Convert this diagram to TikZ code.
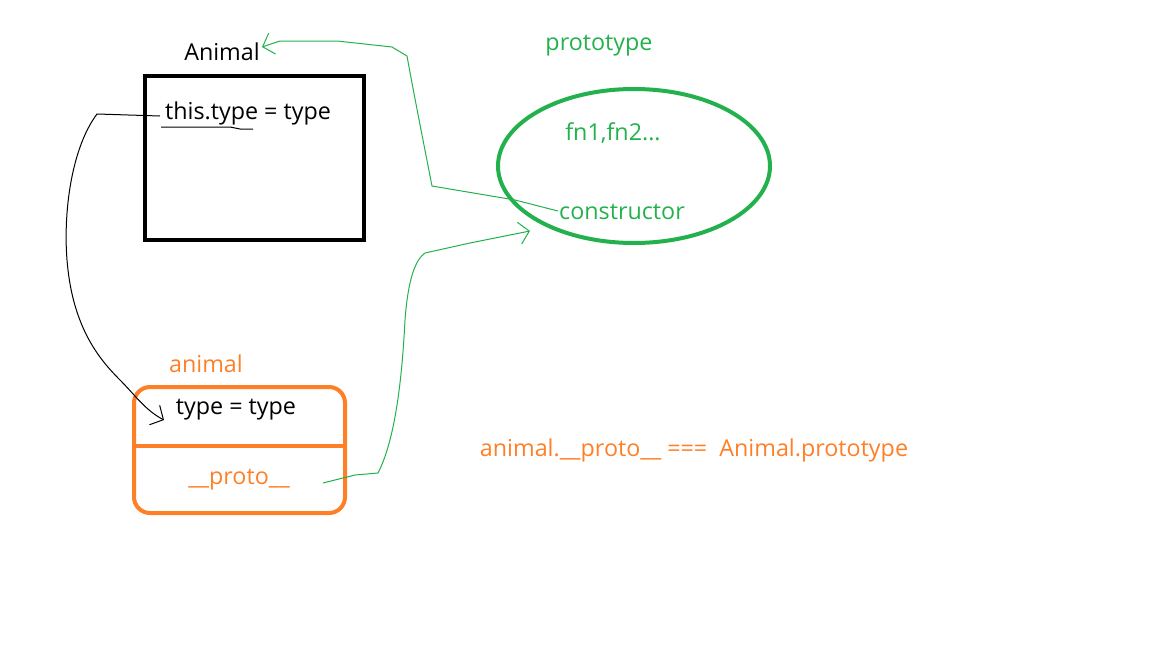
\documentclass[tikz,border=0pt]{standalone}
\usepackage{fontspec}
\setmainfont{Open Sans}
\usetikzlibrary{arrows.meta,shapes.geometric}
\definecolor{pgreen}{RGB}{34,177,76}
\definecolor{porange}{RGB}{255,127,39}
\tikzset{
  lbl/.style={inner sep=0pt, font=\fontsize{23.3}{28}\selectfont},
  greenlbl/.style={lbl, text=pgreen},
  orangelbl/.style={lbl, text=porange},
  thinblack/.style={draw=black, line width=1pt},
  thingreen/.style={draw=pgreen, line width=1pt},
  barb/.style={-{Straight Barb[length=10pt,width=22pt,line width=1pt]}},
}
\begin{document}
\begin{tikzpicture}[x=1pt,y=-1pt]
\useasboundingbox (0,0) rectangle (1152,648);
% Animal constructor box
\node[lbl] (Animal) at (222,52) {Animal};
\draw[line width=4pt] (145,76) rectangle (364,240);
\node[lbl] (thistype) at (248,113) {this.type = type};
\coordinate (ulA) at (161,127);
\coordinate (ulB) at (253,129);
\draw[thinblack] (ulA) -- (230,127) -- (240,129) -- (ulB);
% animal instance
\node[orangelbl] (animal) at (206,364) {animal};
\draw[porange, line width=4pt, rounded corners=16pt] (134,387) rectangle (345,513);
\coordinate (divL) at (134,446);
\coordinate (divR) at (347,446);
\draw[porange, line width=4pt] (divL) -- (divR);
\node[lbl] (typetype) at (236,410) {type = type};
\node[orangelbl] (proto) at (239,480) {\_\_proto\_\_};
% prototype ellipse
\node[greenlbl] (prototype) at (599,46) {prototype};
\node[draw=pgreen, line width=4pt, ellipse, minimum width=272pt, minimum height=154pt, inner sep=0pt] (ell) at (634,166) {};
\node[greenlbl] (fns) at (613,133) {fn1,fn2...};
\node[greenlbl] (ctor) at (622,212) {constructor};
% equation
\node[orangelbl] (eq) at (694,450) {animal.\_\_proto\_\_ ===\ \ Animal.prototype};
% connectors
\coordinate (thisStart) at (160,116);
\coordinate (typeEnd) at (164,420);
\draw[thinblack, barb] (thisStart) -- (97,114)
  .. controls (70,150) and (62,220) .. (68,270)
  .. controls (75,330) and (100,360) .. (120,380)
  .. controls (135,395) and (145,410) .. (typeEnd);
\coordinate (ctorStart) at (558,211);
\coordinate (animalEnd) at (262,47);
\draw[thingreen, barb] (ctorStart) -- (515,200) -- (432,186)
  .. controls (425,150) and (415,100) .. (407,56)
  -- (392,47) -- (337,41) -- (280,41) -- (animalEnd);
\coordinate (protoStart) at (323,483);
\coordinate (ellEnd) at (530,231);
\draw[thingreen, barb] (protoStart) -- (355,475) -- (378,473)
  .. controls (395,440) and (402,380) .. (405,320)
  .. controls (408,280) and (415,260) .. (425,253)
  -- (470,243) -- (ellEnd);
\end{tikzpicture}
\end{document}
